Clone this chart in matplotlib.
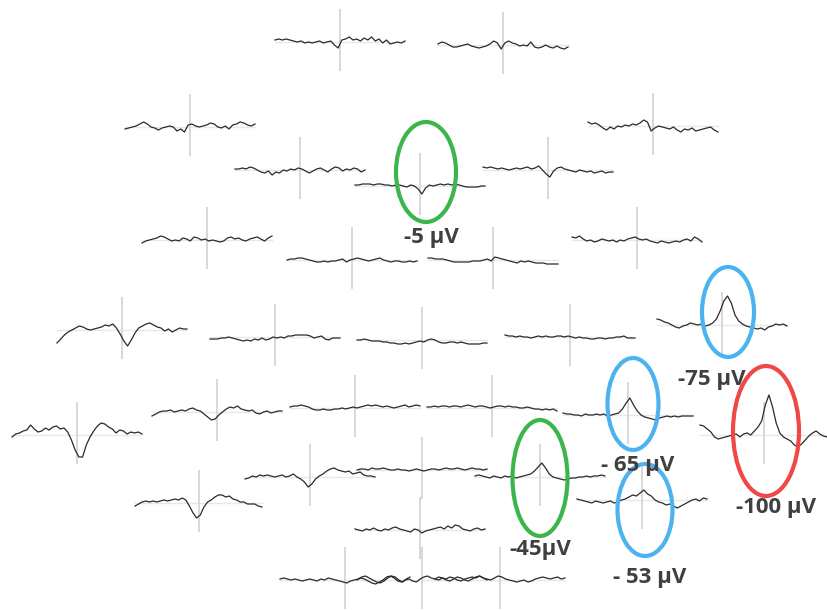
import matplotlib.pyplot as plt
from matplotlib.patches import Ellipse

plt.rcParams['font.family'] = ['Open Sans', 'DejaVu Sans']

# Ampiezze dei tracciati (unita' arbitrarie, positivo = verso l'alto)
t01 = [2, 3, 2, 3, 2, 1, 0, 1, -1, 0, -1, 0, 1, -1, 0, 1, -3, -6, 2, 3, 5, 2, 3, 1, 4, 2, 5, 1, 3, -1, 2, -2, -1, 0, -1, 1]
t02 = [1, 3, 2, 0, -2, -2, -1, 0, 1, -1, -2, -3, -2, -1, 1, 4, 2, -4, 2, 4, 2, 1, -1, 0, -1, 3, -2, -3, -2, 0, -2, -3, -1, -3, -4, -2]
t03 = [-2, -1, 0, 1, 3, 5, 3, 0, -1, -3, -1, 0, 1, 0, -4, -2, -5, 2, 3, 1, 0, 1, 2, 4, 3, 0, -1, 1, -2, 2, 3, 5, 4, 2, 1, 3]
t04 = [4, 2, 3, 1, -2, -4, -1, -3, 0, -1, 1, 0, 2, 1, 3, 6, 4, -5, -2, 0, -1, -2, -3, -1, -4, -6, -3, -4, -2, -5, -4, -3, -2, -1, -4, -6]
t05 = [1, 1, 2, 1, 3, 2, 0, -2, -3, -1, -5, -2, -3, 0, -1, 1, 0, 2, 1, -1, -3, -1, 1, 2, 0, -2, 1, 3, 2, -1, 1, 0, 2, 1, -2, 0]
t06 = [1, 1, 2, 2, 2, 1, 2, 2, 1, 1, 0, 1, 1, 0, -1, 1, 0, -3, -8, -2, 1, 0, 1, 2, 1, 2, 1, 2, 1, 0, -1, -1, -1, -1, 0, 0]
t07 = [3, 2, 3, 2, 1, 2, 1, 0, 1, 2, 1, 2, 3, 1, 2, 4, 0, -4, -7, -1, 2, 3, 1, 0, -1, -2, 0, -1, -2, -1, -3, -2, -1, -3, -2, -2]
t08 = [-3, -1, 0, 1, 2, 4, 3, 1, -1, 0, -1, 2, 1, -1, 3, 2, 0, 1, -1, 0, -1, -2, -1, 2, 3, 1, 2, 0, -1, 1, 2, 3, 1, -1, 2, 4]
t09 = [3, 2, 4, 1, -1, 0, -2, -1, 1, 0, -1, 0, -2, 0, -1, 1, 2, 3, 1, 0, 1, -1, -2, -3, -1, -2, -3, -2, -1, -2, 0, 1, -1, 3, 1, -2]
t10 = [0, 1, 1, 2, 2, 1, 0, -1, -2, -2, -1, -2, -1, -1, 0, 1, -2, 0, 1, 2, 1, 0, -1, 0, 1, 2, 0, -1, -2, -1, -1, -2, -2, -1, -2, -1]
t11 = [2, 2, 1, 1, 1, 0, -1, -2, -2, -2, -2, -2, -1, -1, -1, 0, 1, -1, 3, 2, 1, 0, -1, -2, -3, -1, -2, -1, -2, -3, -3, -3, -4, -4, -4, -4]
t12 = [-13, -9, -5, -2, 0, 2, 4, 3, 1, 0, 1, 2, 3, 5, 4, 6, 2, -4, -11, -16, -10, -3, 2, 4, 6, 7, 5, 3, 2, -1, 1, -2, 0, 2, 1, 1]
t13 = [-2, -2, -2, -1, -1, 0, -1, -2, -3, -4, -3, -4, -2, -3, -1, -3, -2, 0, -1, 0, -1, 1, 1, 2, 2, 2, 2, 1, -1, 0, 1, -2, -3, -1, -1, -1]
t14 = [0, 0, 1, 0, -1, -1, -1, -2, -2, -3, -3, -4, -4, -3, -4, -3, -2, -1, -2, 0, 1, 0, -2, -3, -3, -2, -2, -3, -2, -3, -4, -4, -4, -4, -3, -3]
t15 = [2, 1, 1, 0, 1, 0, 0, -1, 0, 1, 0, 1, 0, 0, 1, 1, 0, 1, 0, -1, 0, -1, -1, -2, -2, -1, -1, -2, -1, -1, 0, 0, 1, -1, -1, -1]
t16 = [6, 5, 3, 2, 0, -2, -3, -1, 0, 2, 1, 0, 1, -1, 0, 2, 6, 14, 24, 29, 22, 10, 4, 1, -1, -2, -3, -4, -3, -5, -2, -1, 1, 0, 1, -1]
t17 = [-2, 1, 2, 4, 5, 10, 6, 3, 4, 7, 5, 8, 9, 6, 7, 3, -5, -15, -22, -22, -10, -2, 4, 9, 12, 11, 8, 6, 2, 5, 4, 1, 3, 2, 3, 1]
t18 = [-4, -2, 0, 1, 1, 2, 0, 1, 2, 1, 3, 4, 2, 1, -2, -5, -8, -7, -3, 0, 3, 5, 4, 6, 3, 2, 1, 2, -1, -2, 0, 1, -1, 0, 1, 1]
t19 = [1, 2, 2, 3, 2, 1, -1, -2, -2, -1, -2, -2, -1, -1, 0, -1, 0, 1, 0, 1, 2, 3, 2, 3, 2, 1, 2, 1, 0, 1, 2, 3, 1, 2, 3, 2]
t20 = [1, 1, 2, 1, 2, 2, 1, 2, 2, 1, 2, 3, 2, 1, 2, 2, 1, 0, 1, 2, 2, 1, 2, 1, 1, 0, 0, 1, 0, -1, -1, -2, -1, -2, -1, -3]
t21 = [2, 1, 1, 0, 0, -1, 1, 0, 0, 1, 0, 1, -1, 0, 1, 2, 6, 12, 17, 10, 4, 0, -2, -3, -4, -5, -3, -2, -1, -2, -1, -2, -1, -1, -1, -1]
t22 = [10, 9, 6, 3, -2, -4, -3, -2, -1, 0, 1, -2, 1, 2, 0, 4, 8, 14, 30, 40, 28, 12, 2, -2, -4, -6, -10, -12, -9, -5, -1, 2, 4, 1, -1, -2]
t23 = [-2, -1, 1, 0, 2, 1, 2, 1, 0, 1, 2, 0, 1, 3, 0, -2, -5, -10, -7, -2, 1, 3, 6, 8, 9, 7, 6, 5, 6, 3, 4, 5, 2, 1, 1, 0]
t24 = [0, 1, 1, 0, 2, 1, 1, 2, 1, 0, 0, 1, 0, 0, -1, 0, 1, 0, -1, 0, 1, 1, 0, 1, 2, 1, 1, 2, 1, 0, 1, 2, 1, 1, 0, 1]
t25 = [1, 2, 1, 0, -1, 1, 0, -1, 1, 0, 1, -1, 0, 1, 2, 3, 6, 10, 14, 9, 3, 0, -1, -2, -3, -2, -1, -1, 0, 0, 1, 0, 1, 1, 2, 1]
t26 = [-3, -1, 1, 2, 1, 2, 1, 2, 3, 2, 3, 4, 3, 5, 3, -3, -10, -15, -12, -4, 1, 3, 6, 8, 8, 6, 7, 4, 3, 1, 1, -1, -1, -1, -3, -4]
t27 = [1, 0, -1, -2, -3, -1, -2, -3, -2, -1, -3, -2, 0, 1, 3, 5, 4, 7, 10, 6, 4, 0, -2, -3, -5, -4, -6, -8, -6, -4, -2, 0, 1, -1, 2, 1]
t28 = [1, 0, -1, 1, 0, 2, 0, -1, 1, 0, 2, 3, 1, 0, -1, -2, 1, 0, -3, -1, 0, 1, 2, 3, 1, 4, 2, 5, 4, 1, 0, -1, 1, 2, 0, 1]
t29 = [1, 2, 1, 0, 1, 0, -1, 0, 1, 0, -1, 1, 0, 2, 1, 0, -1, -2, -3, -1, 0, 1, 3, 4, 2, 0, -2, -3, -1, 2, 4, 3, 0, -2, 1, 3]
t30 = [0, 2, 1, -1, -3, -4, -2, 0, 3, 4, 2, -1, -2, 0, 1, -1, -2, 1, 3, 4, 2, 1, 3, 2, 0, -1, 1, 3, 2, 0, -1, 1, 3, 4, 2, 0]
t31 = [1, 0, 2, 1, 3, 2, 0, -1, 1, 2, 3, 2, 4, 2, 1, 0, 2, 4, 3, 1, 0, -1, -2, -1, 0, -2, -1, 1, 2, 3, 2, 1, 2, 3, 1, 2]

tracciati = [t01, t02, t03, t04, t05, t06, t07, t08, t09, t10, t11, t12, t13, t14, t15, t16,
             t17, t18, t19, t20, t21, t22, t23, t24, t25, t26, t27, t28, t29, t30, t31]

# Posizione di ogni tracciato in pixel: (sinistra, destra, linea di base)
posizioni = [(275, 405, 42), (438, 568, 45), (125, 255, 127), (588, 718, 126),
             (235, 365, 170), (355, 485, 186), (483, 613, 170), (142, 272, 240),
             (572, 702, 240), (287, 417, 260), (428, 558, 260), (57, 187, 330),
             (210, 340, 337), (357, 487, 340), (505, 635, 337), (657, 787, 325),
             (12, 142, 435), (152, 282, 412), (290, 420, 408), (427, 557, 408),
             (563, 693, 415), (700, 827, 435), (245, 375, 477), (357, 487, 470),
             (475, 605, 477), (135, 262, 503), (577, 707, 500), (355, 485, 530),
             (280, 410, 580), (357, 487, 580), (435, 565, 580)]

# Cerchi ed etichette: (x, y, larghezza, altezza, colore, testo, x testo, y testo)
evidenziati = [(426, 172, 60, 100, '#3cb54a', '-5 µV', 431, 238),
               (728, 312, 52, 90, '#4db3f0', '-75 µV', 712, 380),
               (633, 404, 51, 92, '#4db3f0', '- 65 µV', 638, 465),
               (766, 431, 66, 130, '#f04848', '-100 µV', 776, 507),
               (540, 478, 55, 116, '#3cb54a', '-45µV', 540, 550),
               (645, 510, 55, 92, '#4db3f0', '- 53 µV', 650, 578)]

fig = plt.figure(figsize=(8.27, 6.10), dpi=100)
ax = fig.add_axes([0, 0, 1, 1])
ax.set_xlim(0, 827)
ax.set_ylim(610, 0)
ax.axis('off')

for valori, (sx, dx, base) in zip(tracciati, posizioni):
    n = len(valori)
    xs = [sx + (dx - sx) * i / (n - 1) for i in range(n)]
    ys = [base - v for v in valori]
    centro = (sx + dx) / 2
    ax.plot([sx, dx], [base, base], color='#e8e8e8', lw=1, zorder=1)
    ax.plot([centro, centro], [base - 32, base + 28], color='#d8d8d8', lw=1.4, zorder=1)
    ax.plot(xs, ys, color='#2a2a2a', lw=0.9, zorder=2)

for ex, ey, w, h, col, testo, tx, ty in evidenziati:
    ax.add_patch(Ellipse((ex, ey), w, h, fill=False, edgecolor=col, lw=3, zorder=3))
    ax.text(tx, ty, testo, fontsize=16, fontweight='bold', color='#404040',
            ha='center', va='center', zorder=4)

fig.savefig('out.png', dpi=100)
